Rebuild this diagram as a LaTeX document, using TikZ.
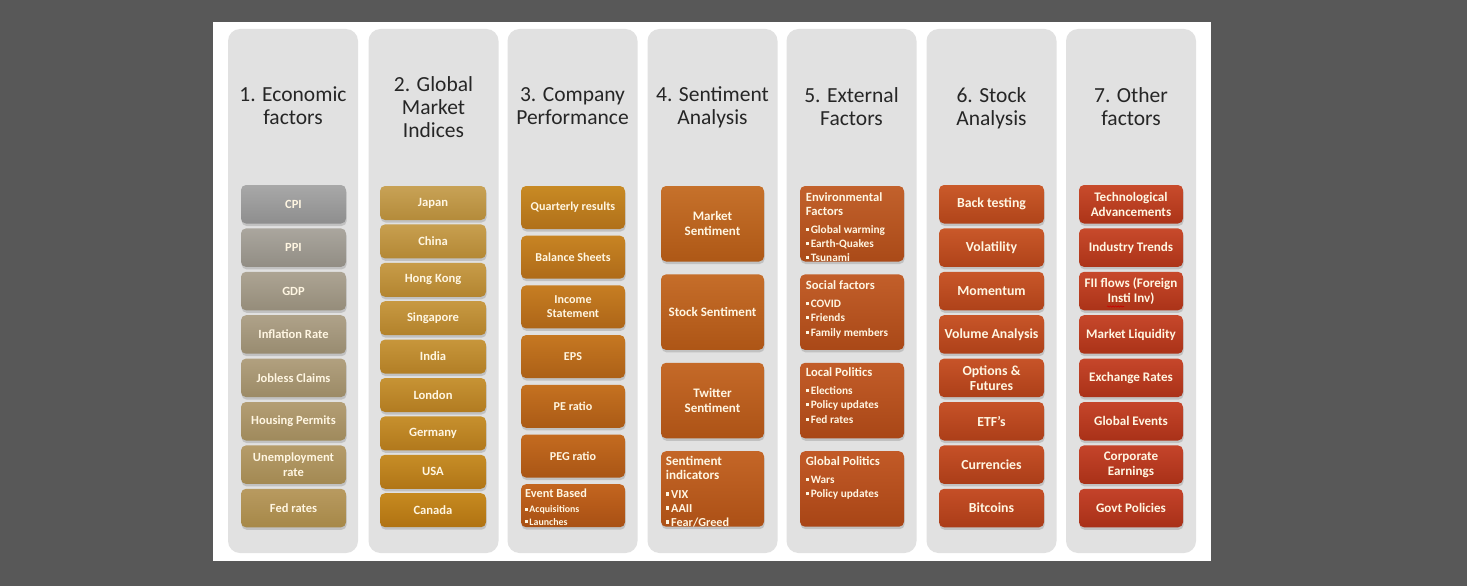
\documentclass[tikz,border=0pt]{standalone}
\usepackage{fontspec}
\setmainfont{Carlito}
\usetikzlibrary{shadows,decorations.pathmorphing}
\definecolor{bgdark}{HTML}{585858}
\definecolor{colgray}{HTML}{E1E1E1}
\definecolor{titletext}{HTML}{262626}
\definecolor{boxtext}{HTML}{FFF6E2}
\definecolor{c1aT}{HTML}{A8A8A8}\definecolor{c1aB}{HTML}{8E8E8E}
\definecolor{c1bT}{HTML}{B89A60}\definecolor{c1bB}{HTML}{A68848}
\definecolor{c2aT}{HTML}{C8A256}\definecolor{c2aB}{HTML}{B48B3A}
\definecolor{c2bT}{HTML}{C68A20}\definecolor{c2bB}{HTML}{B07212}
\definecolor{c3aT}{HTML}{C88A24}\definecolor{c3aB}{HTML}{B0701A}
\definecolor{c3bT}{HTML}{C3651F}\definecolor{c3bB}{HTML}{A85014}
\definecolor{c4aT}{HTML}{C6712B}\definecolor{c4aB}{HTML}{AE5816}
\definecolor{c4bT}{HTML}{C46627}\definecolor{c4bB}{HTML}{AC5016}
\definecolor{c5aT}{HTML}{C2612C}\definecolor{c5aB}{HTML}{AA4A18}
\definecolor{c5bT}{HTML}{C25A27}\definecolor{c5bB}{HTML}{A84516}
\definecolor{c6aT}{HTML}{CA5A2A}\definecolor{c6aB}{HTML}{B0441A}
\definecolor{c6bT}{HTML}{C54F27}\definecolor{c6bB}{HTML}{AA3C18}
\definecolor{c7aT}{HTML}{C84B2C}\definecolor{c7aB}{HTML}{AC3418}
\definecolor{c7bT}{HTML}{C4432A}\definecolor{c7bB}{HTML}{A83018}
\newcommand\colshade[3]{%
  \pgfmathsetmacro\mixp{100-100*#2/#3}%
  \colorlet{tc}{#1aT!\mixp!#1bT}\colorlet{bc}{#1aB!\mixp!#1bB}}
\newcommand\sqbul{\raisebox{0.2em}{\rule{0.27em}{0.27em}}\hspace{0.16em}}
\tikzset{
  panelbox/.style={fill=white, inner sep=0pt, minimum width=998pt, minimum height=539pt},
  colbox/.style={fill=colgray, rounded corners=12pt, inner sep=0pt, minimum width=130pt, minimum height=524pt},
  coltitle/.style={text=titletext, align=center, inner sep=0pt, font=\fontsize{21.5}{23}\selectfont,
    execute at begin node=\strut, execute at end node=\strut},
  itembox/.style={rounded corners=5pt, inner sep=1pt, align=center, text=boxtext,
    drop shadow={opacity=0.32, shadow xshift=0.6pt, shadow yshift=-2.5pt}},
  listline/.style={anchor=base west, inner sep=0pt, text=boxtext},
  hdA/.style={font=\fontsize{12.3}{14.5}\selectfont\bfseries},
  blA/.style={font=\fontsize{9.9}{12}\selectfont\bfseries},
  hdB/.style={font=\fontsize{13.1}{14.5}\selectfont\bfseries},
  blB/.style={font=\fontsize{12.2}{14}\selectfont\bfseries},
  hdC/.style={font=\fontsize{12.6}{14.5}\selectfont\bfseries},
  blC/.style={font=\fontsize{11.3}{14}\selectfont\bfseries},
}
\begin{document}
\begin{tikzpicture}[x=1pt,y=-1pt]
\useasboundingbox (0,0) rectangle (1467,586);
\fill[bgdark] (0,0) rectangle (1467,586);
\node[panelbox] (panel) at (712,291.5) {};
\foreach \cx [count=\k] in {293,433.5,572.5,712.5,851.5,991.5,1131}
  \node[colbox] (col\k) at (\cx,291) {};
\node[coltitle] (title1) at (293,109.5) {1. Economic\\factors};
\node[coltitle] (title2) at (433.5,110) {2. Global\\Market\\Indices};
\node[coltitle] (title3) at (572.5,109.5) {3. Company\\Performance};
\node[coltitle] (title4) at (712.5,109.5) {4. Sentiment\\Analysis};
\node[coltitle] (title5) at (851.5,109.5) {5. External\\Factors};
\node[coltitle] (title6) at (991.5,109.5) {6. Stock\\Analysis};
\node[coltitle] (title7) at (1131,109.5) {7. Other\\factors};
% column 1
\foreach \t [count=\i from 0] in {CPI,PPI,GDP,Inflation Rate,Jobless Claims,Housing Permits,{Unemployment\\rate},Fed rates}{
  \colshade{c1}{\i}{7}
  \node[itembox, top color=tc, bottom color=bc, minimum width=105pt, minimum height=38.5pt,
        font=\fontsize{12.5}{14.5}\selectfont\bfseries] (eco\i) at (293.5,{204.25+43.4*\i}) {\t};
}
% column 2
\foreach \t [count=\i from 0] in {Japan,China,Hong Kong,Singapore,India,London,Germany,USA,Canada}{
  \colshade{c2}{\i}{8}
  \node[itembox, top color=tc, bottom color=bc, minimum width=106pt, minimum height=34pt,
        font=\fontsize{12.6}{14.5}\selectfont\bfseries] (idx\i) at (433,{203+38.4*\i}) {\t};
}
% column 3
\foreach \t [count=\i from 0] in {Quarterly results,Balance Sheets,{Income\\Statement},EPS,PE ratio,PEG ratio}{
  \colshade{c3}{\i}{6}
  \node[itembox, top color=tc, bottom color=bc, minimum width=104pt, minimum height=43pt,
        font=\fontsize{12.1}{14.2}\selectfont\bfseries] (comp\i) at (573,{207.5+49.7*\i}) {\t};
}
\colshade{c3}{6}{6}
\node[itembox, top color=tc, bottom color=bc, minimum width=104pt, minimum height=43pt] (comp6) at (573,{207.5+49.7*6}) {};
\node[listline, hdA] (ev0) at (525,497) {Event Based};
\node[listline, blA] (ev1) at (525,512.5) {\sqbul Acquisitions};
\node[listline, blA] (ev2) at (525,525) {\sqbul Launches};
% column 4
\foreach \t [count=\i from 0] in {{Market\\Sentiment},Stock Sentiment,{Twitter\\Sentiment}}{
  \colshade{c4}{\i}{3}
  \node[itembox, top color=tc, bottom color=bc, minimum width=103pt, minimum height=75.5pt,
        font=\fontsize{13}{14.7}\selectfont\bfseries] (sent\i) at (712.5,{223.75+88.4*\i}) {\t};
}
\colshade{c4}{3}{3}
\node[itembox, top color=tc, bottom color=bc, minimum width=103pt, minimum height=75.5pt] (sent3) at (712.5,{223.75+88.4*3}) {};
\node[listline, hdB] (si0) at (665.7,465) {Sentiment};
\node[listline, hdB] (si1) at (665.7,479) {indicators};
\node[listline, blB] (si2) at (665.7,498) {\sqbul VIX};
\node[listline, blB] (si3) at (665.7,512) {\sqbul AAII};
\node[listline, blB] (si4) at (665.7,526) {\sqbul Fear/Greed};
% column 5
\foreach \i in {0,...,3}{
  \colshade{c5}{\i}{3}
  \node[itembox, top color=tc, bottom color=bc, minimum width=104pt, minimum height=75.5pt] (ext\i) at (852,{223.75+88.4*\i}) {};
}
\node[listline, hdC] (en0) at (805.7,201) {Environmental};
\node[listline, hdC] (en1) at (805.7,215.5) {Factors};
\node[listline, blC] (en2) at (805.7,233) {\sqbul Global warming};
\node[listline, blC] (en3) at (805.7,247) {\sqbul Earth-Quakes};
\node[listline, blC] (en4) at (805.7,261) {\sqbul Tsunami};
\node[listline, hdC] (so0) at (805.7,289) {Social factors};
\node[listline, blC] (so1) at (805.7,307) {\sqbul COVID};
\node[listline, blC] (so2) at (805.7,321.5) {\sqbul Friends};
\node[listline, blC] (so3) at (805.7,336) {\sqbul Family members};
\node[listline, hdC] (lp0) at (805.7,376.5) {Local Politics};
\node[listline, blC] (lp1) at (805.7,394.5) {\sqbul Elections};
\node[listline, blC] (lp2) at (805.7,408.5) {\sqbul Policy updates};
\node[listline, blC] (lp3) at (805.7,423) {\sqbul Fed rates};
\node[listline, hdC] (gp0) at (805.7,465) {Global Politics};
\node[listline, blC] (gp1) at (805.7,483) {\sqbul Wars};
\node[listline, blC] (gp2) at (805.7,497.5) {\sqbul Policy updates};
% column 6
\foreach \t [count=\i from 0] in {Back testing,Volatility,Momentum,Volume Analysis,{Options \&\\Futures},ETF’s,Currencies,Bitcoins}{
  \colshade{c6}{\i}{7}
  \node[itembox, top color=tc, bottom color=bc, minimum width=105pt, minimum height=38.5pt,
        font=\fontsize{13.8}{15}\selectfont\bfseries] (stk\i) at (991.5,{204.25+43.4*\i}) {\t};
}
% column 7
\foreach \t [count=\i from 0] in {{Technological\\Advancements},Industry Trends,{FII flows (Foreign\\Insti Inv)},Market Liquidity,Exchange Rates,Global Events,{Corporate\\Earnings},Govt Policies}{
  \colshade{c7}{\i}{7}
  \node[itembox, top color=tc, bottom color=bc, minimum width=104pt, minimum height=38.5pt,
        font=\fontsize{13.1}{14.6}\selectfont\bfseries] (oth\i) at (1131,{204.25+43.4*\i}) {\t};
}
\draw[red!80!black, line width=0.6pt, decorate, decoration={snake, amplitude=0.6pt, segment length=2.6pt}]
  (1107,306.5) -- (1124,306.5);
\end{tikzpicture}
\end{document}
